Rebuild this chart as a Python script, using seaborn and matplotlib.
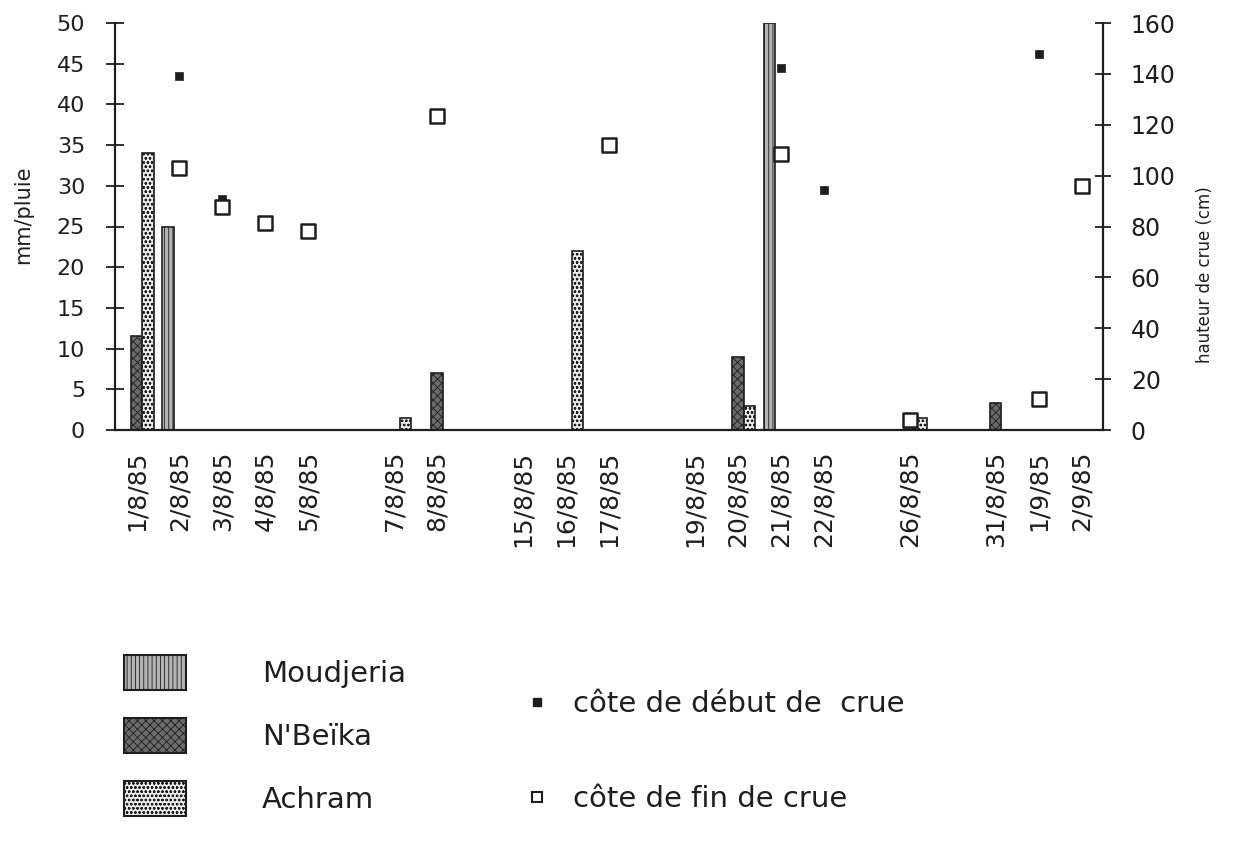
import numpy as np
import pandas as pd
import matplotlib
matplotlib.use("Agg")
import matplotlib.pyplot as plt
import seaborn as sns
from matplotlib.patches import Patch
from matplotlib.lines import Line2D

# Axis categories (empty strings are unlabelled gap days)
dates = ["1/8/85", "2/8/85", "3/8/85", "4/8/85", "5/8/85", "", "7/8/85",
         "8/8/85", "", "15/8/85", "16/8/85", "17/8/85", "", "19/8/85",
         "20/8/85", "21/8/85", "22/8/85", "", "26/8/85", "", "31/8/85",
         "1/9/85", "2/9/85"]
stations = ["Moudjeria", "N'Beïka", "Achram"]

# Daily rainfall (mm) per station
moudjeria = [0, 25, 0, 0, 0, 0, 0, 0, 0, 0, 0, 0, 0, 0, 0, 50, 0, 0, 0, 0, 0, 0, 0]
nbeika = [11.5, 0, 0, 0, 0, 0, 0, 7, 0, 0, 0, 0, 0, 0, 9, 0, 0, 0, 1.5, 0, 3.3, 0, 0]
achram = [34, 0, 0, 0, 0, 0, 1.5, 0, 0, 0, 22, 0, 0, 0, 3, 0, 0, 0, 1.5, 0, 0, 0, 0]

# Flood stage readings (cm)
nan = np.nan
debut_crue = [nan, 139, 91, nan, nan, nan, nan, nan, nan, nan, nan, nan,
              nan, nan, nan, 142.5, 94.5, nan, nan, nan, nan, 148, nan]
fin_crue = [nan, 103, 87.5, 81.5, 78.3, nan, nan, 123.5, nan, nan, nan, 112,
            nan, nan, nan, 108.5, nan, nan, 4, nan, nan, 12, 96]

sns.set_style("white")
plt.rcParams["font.family"] = ["DejaVu Sans"]
plt.rcParams["hatch.linewidth"] = 0.6
ink = "#1e1e1e"

rows = []
for name, vals in zip(stations, [moudjeria, nbeika, achram]):
    for i, v in enumerate(vals):
        if v > 0:
            rows.append({"pos": i, "station": name, "mm": v})
rain = pd.DataFrame(rows)

pts = pd.DataFrame({"pos": np.arange(len(dates)),
                    "debut": debut_crue, "fin": fin_crue})

fig = plt.figure(figsize=(12.34, 8.49), dpi=100)
ax = fig.add_axes([115 / 1234, 1 - 430 / 849, 988 / 1234, 407 / 849])

faces = {"Moudjeria": "#b4b4b4", "N'Beïka": "#6a6a6a", "Achram": "#ececec"}
hatches = {"Moudjeria": "||||", "N'Beïka": "xxxx", "Achram": "oooo"}

sns.barplot(data=rain, x="pos", y="mm", hue="station", hue_order=stations,
            order=list(range(len(dates))), palette=faces, width=0.8,
            edgecolor=ink, linewidth=1.2, legend=False, ax=ax, errorbar=None)
for cont, name in zip(ax.containers, stations):
    for bar in cont:
        bar.set_hatch(hatches[name])

ax2 = ax.twinx()
sns.scatterplot(data=pts, x="pos", y="debut", marker="s", s=36,
                color=ink, edgecolor=ink, linewidth=0.5, ax=ax2, zorder=3)
sns.scatterplot(data=pts, x="pos", y="fin", marker="s", s=95,
                facecolor="white", edgecolor=ink, linewidth=1.8, ax=ax2, zorder=4)

ax.set_xlim(-0.5, len(dates) - 0.5)
ax2.set_xlim(-0.5, len(dates) - 0.5)
ax.set_ylim(0, 50)
ax2.set_ylim(0, 160)
ax.set_yticks(np.arange(0, 51, 5))
ax2.set_yticks(np.arange(0, 161, 20))

ax.set_xticks(np.arange(len(dates)))
ax.set_xticklabels(dates, rotation=90, fontsize=18, color=ink)
ax.set_xticks(np.arange(len(dates) + 1) - 0.5, minor=True)
ax.tick_params(axis="x", which="major", length=0, pad=15)
ax.tick_params(axis="x", which="minor", direction="inout", length=13,
               width=1.3, color=ink)
ax.tick_params(axis="y", direction="inout", length=13, width=1.3,
               color=ink, labelsize=16, labelcolor=ink, pad=15, left=True)
ax2.tick_params(axis="y", direction="inout", length=12, width=1.3,
                color=ink, labelsize=17, labelcolor=ink, pad=14, right=True)

ax.set_xlabel("")
ax.set_ylabel("")
ax2.set_xlabel("")
ax2.set_ylabel("")
for a in (ax, ax2):
    a.spines["top"].set_visible(False)
    for s in ("left", "right", "bottom"):
        a.spines[s].set_color(ink)
        a.spines[s].set_linewidth(1.6)
ax.spines["right"].set_visible(False)
ax2.spines["left"].set_visible(False)
ax2.spines["bottom"].set_visible(False)

fig.text(23 / 1234, 1 - 215 / 849, "mm/pluie", rotation=90, ha="center",
         va="center", fontsize=15, color=ink)
fig.text(1205 / 1234, 1 - 275 / 849, "hauteur de crue (cm)", rotation=90,
         ha="center", va="center", fontsize=12, color=ink)

bar_handles = [Patch(facecolor=faces[n], edgecolor=ink, hatch=hatches[n],
                     linewidth=1.5) for n in stations]
fig.legend(bar_handles, stations, loc="upper left",
           bbox_to_anchor=(124 / 1234, 1 - 655 / 849), frameon=False,
           fontsize=21, handlelength=2.12, handleheight=1.45,
           handletextpad=2.6, labelspacing=0.98, borderpad=0,
           borderaxespad=0, labelcolor=ink)

pt_handles = [Line2D([], [], ls="none", marker="s", markersize=6,
                     color=ink),
              Line2D([], [], ls="none", marker="s", markersize=7,
                     markerfacecolor="white", markeredgecolor=ink,
                     markeredgewidth=1.5)]
fig.legend(pt_handles, ["côte de début de  crue", "côte de fin de crue"],
           loc="upper left", bbox_to_anchor=(528 / 1234, 1 - 690 / 849),
           frameon=False, fontsize=21, handlelength=0.6, handletextpad=0.95,
           labelspacing=2.3, borderpad=0, borderaxespad=0, labelcolor=ink)

fig.savefig("out.png", dpi=100, facecolor="white")
